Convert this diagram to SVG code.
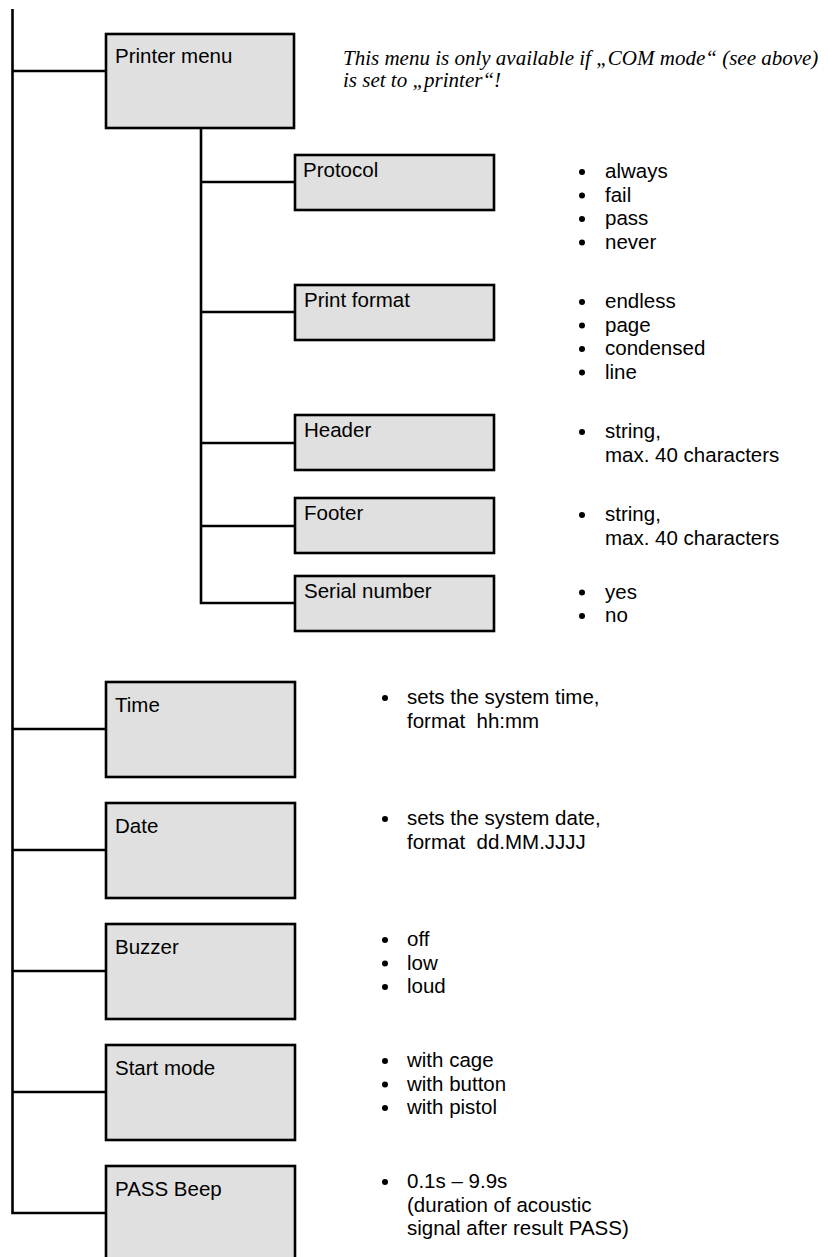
<svg xmlns="http://www.w3.org/2000/svg" width="829" height="1257" viewBox="0 0 829 1257">
<style>
.box{fill:#e0e0e0;stroke:#000;stroke-width:2.6}
.ln{stroke:#000;stroke-width:2.6;fill:none}
.t{font-family:"Liberation Sans",Arial,sans-serif;font-size:20.5px;fill:#000}
.n{font-family:"Liberation Serif","Times New Roman",serif;font-style:italic;font-size:21px;fill:#000}
.b{fill:#000}
</style>
<rect width="829" height="1257" fill="#fff"/>
<g id="connectors">
<polyline class="ln" points="12.5,9 12.5,1213 106,1213"/>
<line class="ln" x1="12.5" y1="71" x2="106" y2="71"/>
<line class="ln" x1="12.5" y1="729" x2="106" y2="729"/>
<line class="ln" x1="12.5" y1="850" x2="106" y2="850"/>
<line class="ln" x1="12.5" y1="971" x2="106" y2="971"/>
<line class="ln" x1="12.5" y1="1092" x2="106" y2="1092"/>
<polyline class="ln" points="201,128 201,603 295,603"/>
<line class="ln" x1="201" y1="182" x2="295" y2="182"/>
<line class="ln" x1="201" y1="312" x2="295" y2="312"/>
<line class="ln" x1="201" y1="443" x2="295" y2="443"/>
<line class="ln" x1="201" y1="526" x2="295" y2="526"/>
</g>
<g id="printer-menu">
<rect class="box" x="106" y="34" width="188" height="94"/>
<text class="t" x="115" y="63">Printer menu</text>
</g>
<g id="note">
<text class="n" x="343" y="65">This menu is only available if „COM mode“ (see above)</text>
<text class="n" x="343" y="87">is set to „printer“!</text>
</g>
<g id="protocol">
<rect class="box" x="295" y="155" width="199" height="55"/>
<text class="t" x="303" y="177">Protocol</text>
<circle class="b" cx="582" cy="172" r="3"/><text class="t" x="605" y="178">always</text>
<circle class="b" cx="582" cy="195.5" r="3"/><text class="t" x="605" y="201.5">fail</text>
<circle class="b" cx="582" cy="219" r="3"/><text class="t" x="605" y="225">pass</text>
<circle class="b" cx="582" cy="242.5" r="3"/><text class="t" x="605" y="248.5">never</text>
</g>
<g id="print-format">
<rect class="box" x="295" y="285" width="199" height="55"/>
<text class="t" x="304" y="307">Print format</text>
<circle class="b" cx="582" cy="302" r="3"/><text class="t" x="605" y="308">endless</text>
<circle class="b" cx="582" cy="325.5" r="3"/><text class="t" x="605" y="331.5">page</text>
<circle class="b" cx="582" cy="349" r="3"/><text class="t" x="605" y="355">condensed</text>
<circle class="b" cx="582" cy="372.5" r="3"/><text class="t" x="605" y="378.5">line</text>
</g>
<g id="header">
<rect class="box" x="295" y="415" width="199" height="55"/>
<text class="t" x="304" y="437">Header</text>
<circle class="b" cx="582" cy="432" r="3"/><text class="t" x="605" y="438">string,</text>
<text class="t" x="605" y="461.5">max. 40 characters</text>
</g>
<g id="footer">
<rect class="box" x="295" y="498" width="199" height="55"/>
<text class="t" x="304" y="520">Footer</text>
<circle class="b" cx="582" cy="515" r="3"/><text class="t" x="605" y="521">string,</text>
<text class="t" x="605" y="544.5">max. 40 characters</text>
</g>
<g id="serial-number">
<rect class="box" x="295" y="576" width="199" height="55"/>
<text class="t" x="304" y="598">Serial number</text>
<circle class="b" cx="582" cy="592.5" r="3"/><text class="t" x="605" y="598.5">yes</text>
<circle class="b" cx="582" cy="616" r="3"/><text class="t" x="605" y="622">no</text>
</g>
<g id="time">
<rect class="box" x="106" y="682" width="189" height="95"/>
<text class="t" x="115" y="711.5">Time</text>
<circle class="b" cx="385" cy="698" r="3"/><text class="t" x="407" y="704">sets the system time,</text>
<text class="t" x="407" y="727.5">format&#160; hh:mm</text>
</g>
<g id="date">
<rect class="box" x="106" y="803" width="189" height="95"/>
<text class="t" x="115" y="832.5">Date</text>
<circle class="b" cx="385" cy="819" r="3"/><text class="t" x="407" y="825">sets the system date,</text>
<text class="t" x="407" y="848.5">format&#160; dd.MM.JJJJ</text>
</g>
<g id="buzzer">
<rect class="box" x="106" y="924" width="189" height="95"/>
<text class="t" x="115" y="953.5">Buzzer</text>
<circle class="b" cx="385" cy="940" r="3"/><text class="t" x="407" y="946">off</text>
<circle class="b" cx="385" cy="963.5" r="3"/><text class="t" x="407" y="969.5">low</text>
<circle class="b" cx="385" cy="987" r="3"/><text class="t" x="407" y="993">loud</text>
</g>
<g id="start-mode">
<rect class="box" x="106" y="1045" width="189" height="95"/>
<text class="t" x="115" y="1074.5">Start mode</text>
<circle class="b" cx="385" cy="1061" r="3"/><text class="t" x="407" y="1067">with cage</text>
<circle class="b" cx="385" cy="1084.5" r="3"/><text class="t" x="407" y="1090.5">with button</text>
<circle class="b" cx="385" cy="1108" r="3"/><text class="t" x="407" y="1114">with pistol</text>
</g>
<g id="pass-beep">
<rect class="box" x="106" y="1166" width="189" height="95"/>
<text class="t" x="115" y="1195.5">PASS Beep</text>
<circle class="b" cx="385" cy="1182" r="3"/><text class="t" x="407" y="1188">0.1s – 9.9s</text>
<text class="t" x="407" y="1211.5">(duration of acoustic</text>
<text class="t" x="407" y="1235">signal after result PASS)</text>
</g>
</svg>
